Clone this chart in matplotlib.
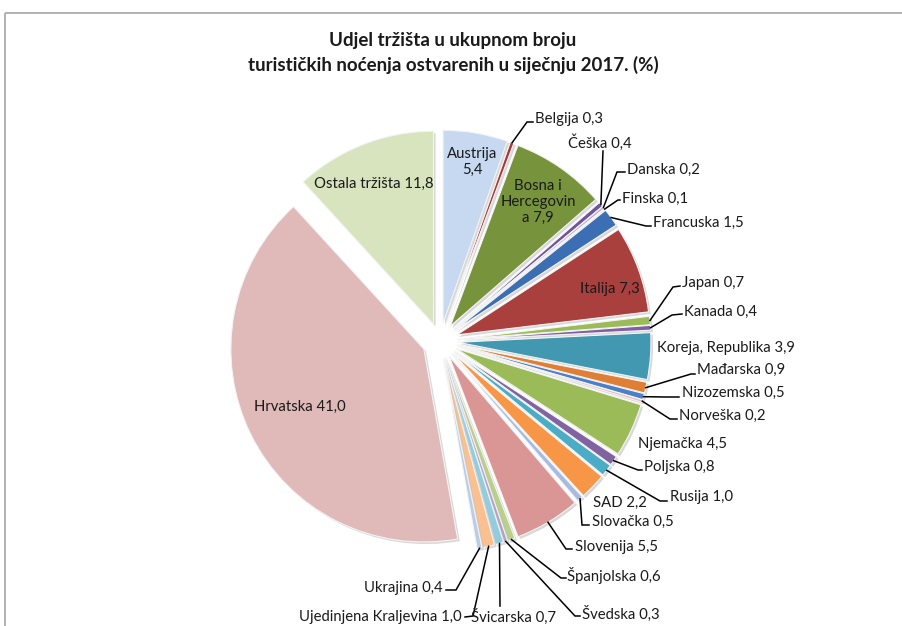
import numpy as np
import matplotlib
matplotlib.use("Agg")
import matplotlib.pyplot as plt
from matplotlib.patches import Rectangle
from matplotlib import patheffects as pe

plt.rcParams['font.family'] = ['Lato', 'DejaVu Sans']

W, H = 903, 626

title = "Udjel tržišta u ukupnom broju\nturističkih noćenja ostvarenih u siječnju 2017. (%)"

markets = ["Austrija", "Belgija", "Bosna i Hercegovina", "Češka", "Danska", "Finska",
           "Francuska", "Italija", "Japan", "Kanada", "Koreja, Republika", "Mađarska",
           "Nizozemska", "Norveška", "Njemačka", "Poljska", "Rusija", "SAD", "Slovačka",
           "Slovenija", "Španjolska", "Švedska", "Švicarska", "Ujedinjena Kraljevina",
           "Ukrajina", "Hrvatska", "Ostala tržišta"]
shares = [5.4, 0.3, 7.9, 0.4, 0.2, 0.1, 1.5, 7.3, 0.7, 0.4, 3.9, 0.9, 0.5, 0.2, 4.5,
          0.8, 1.0, 2.2, 0.5, 5.5, 0.6, 0.3, 0.7, 1.0, 0.4, 41.0, 11.8]
colors = ["#C6D9F1", "#A33B39", "#77933C", "#6F559A", "#B3A2C7", "#93CDDD",
          "#3C6EB4", "#A9403D", "#9BBB59", "#7F5FA7", "#4198B0", "#DE7F35",
          "#4A7FC9", "#E6B9B8", "#9BBB59", "#8064A2", "#4BACC6", "#F79646", "#A7BADF",
          "#D99694", "#B8D08A", "#B3A2C7", "#93CDDD", "#FAC090",
          "#B9CDE5", "#E0B9B9", "#D7E4BD"]

# label placement in pixels: (x, y, ha)
label_pos = {
    "Austrija": (472, 162, "center"),
    "Belgija": (535, 119, "left"),
    "Bosna i Hercegovina": (538, 202, "center"),
    "Češka": (600, 143, "center"),
    "Danska": (627, 170, "left"),
    "Finska": (622, 199, "left"),
    "Francuska": (653, 223, "left"),
    "Italija": (610, 289, "center"),
    "Japan": (682, 283, "left"),
    "Kanada": (684, 312, "left"),
    "Koreja, Republika": (657, 348, "left"),
    "Mađarska": (697, 370, "left"),
    "Nizozemska": (682, 393, "left"),
    "Norveška": (679, 416, "left"),
    "Njemačka": (638, 444, "left"),
    "Poljska": (644, 467, "left"),
    "Rusija": (670, 497, "left"),
    "SAD": (593, 503, "left"),
    "Slovačka": (592, 522, "left"),
    "Slovenija": (575, 547, "left"),
    "Španjolska": (567, 576, "left"),
    "Švedska": (582, 614, "left"),
    "Švicarska": (514, 617, "center"),
    "Ujedinjena Kraljevina": (462, 617, "right"),
    "Ukrajina": (443, 588, "right"),
    "Hrvatska": (300, 407, "center"),
    "Ostala tržišta": (374, 184, "center"),
}
# leader lines: bend point and end point (pixels)
leaders = {
    "Belgija": [(527, 122), (533, 122)],
    "Češka": [(603, 151)],
    "Danska": [(617, 172), (625, 172)],
    "Finska": [(618, 200), (620, 200)],
    "Francuska": [(646, 226), (651, 226)],
    "Japan": [(673, 287), (680, 286)],
    "Kanada": [(672, 315), (682, 314)],
    "Mađarska": [(691, 374), (695, 374)],
    "Nizozemska": [(665, 397), (679, 397)],
    "Norveška": [(670, 419), (677, 419)],
    "Poljska": [(638, 470), (642, 470)],
    "Rusija": [(660, 501), (667, 501)],
    "Slovačka": [(582, 525), (589, 525)],
    "Slovenija": [(566, 549), (572, 549)],
    "Španjolska": [(561, 578), (566, 578)],
    "Švedska": [(575, 616), (580, 616)],
    "Švicarska": [(500, 606)],
    "Ujedinjena Kraljevina": [(473, 616), (465, 617)],
    "Ukrajina": [(456, 590), (446, 590)],
}
wrapped = {"Austrija": "Austrija\n5,4", "Bosna i Hercegovina": "Bosna i\nHercegovin\na 7,9"}

fig = plt.figure(figsize=(W / 100, H / 100), dpi=100)
ax = fig.add_axes([0, 0, 1, 1])

# explode is in data units (pixels here)
wedges, _ = ax.pie(shares, colors=colors, startangle=-90, counterclock=True,
                   center=(440, 341), radius=193, explode=[18] * len(shares),
                   wedgeprops=dict(edgecolor="#f4f4f4", linewidth=0.8))
for w in wedges:
    w.set_path_effects([pe.SimplePatchShadow(offset=(1.5, -1.5), shadow_rgbFace="#7f7f7f", alpha=0.3),
                        pe.Normal()])

ax.set_xlim(0, W)
ax.set_ylim(H, 0)
ax.set_aspect("auto")
ax.axis("off")

ax.add_patch(Rectangle((5, 13), 2000, 2000, fill=False, edgecolor="#ADADAD", linewidth=1.3))

ax.text(453, 53, title, ha="center", va="center", fontsize=13.5, fontweight="bold",
        color="#1a1a1a", linespacing=1.5)

for name, val, w in zip(markets, shares, wedges):
    txt = wrapped.get(name, f"{name} {val:.1f}".replace(".", ","))
    x, y, ha = label_pos[name]
    ax.text(x, y, txt, ha=ha, va="center", fontsize=10.7, color="#1a1a1a",
            linespacing=1.15)
    if name in leaders:
        th = np.deg2rad((w.theta1 + w.theta2) / 2)
        cx, cy = w.center
        ax0 = cx + w.r * np.cos(th)
        ay0 = cy + w.r * np.sin(th)
        pts = [(ax0, ay0)] + leaders[name]
        ax.plot([p[0] for p in pts], [p[1] for p in pts], color="black", lw=1.1,
                solid_joinstyle="miter")

fig.savefig("out.png", dpi=100)
